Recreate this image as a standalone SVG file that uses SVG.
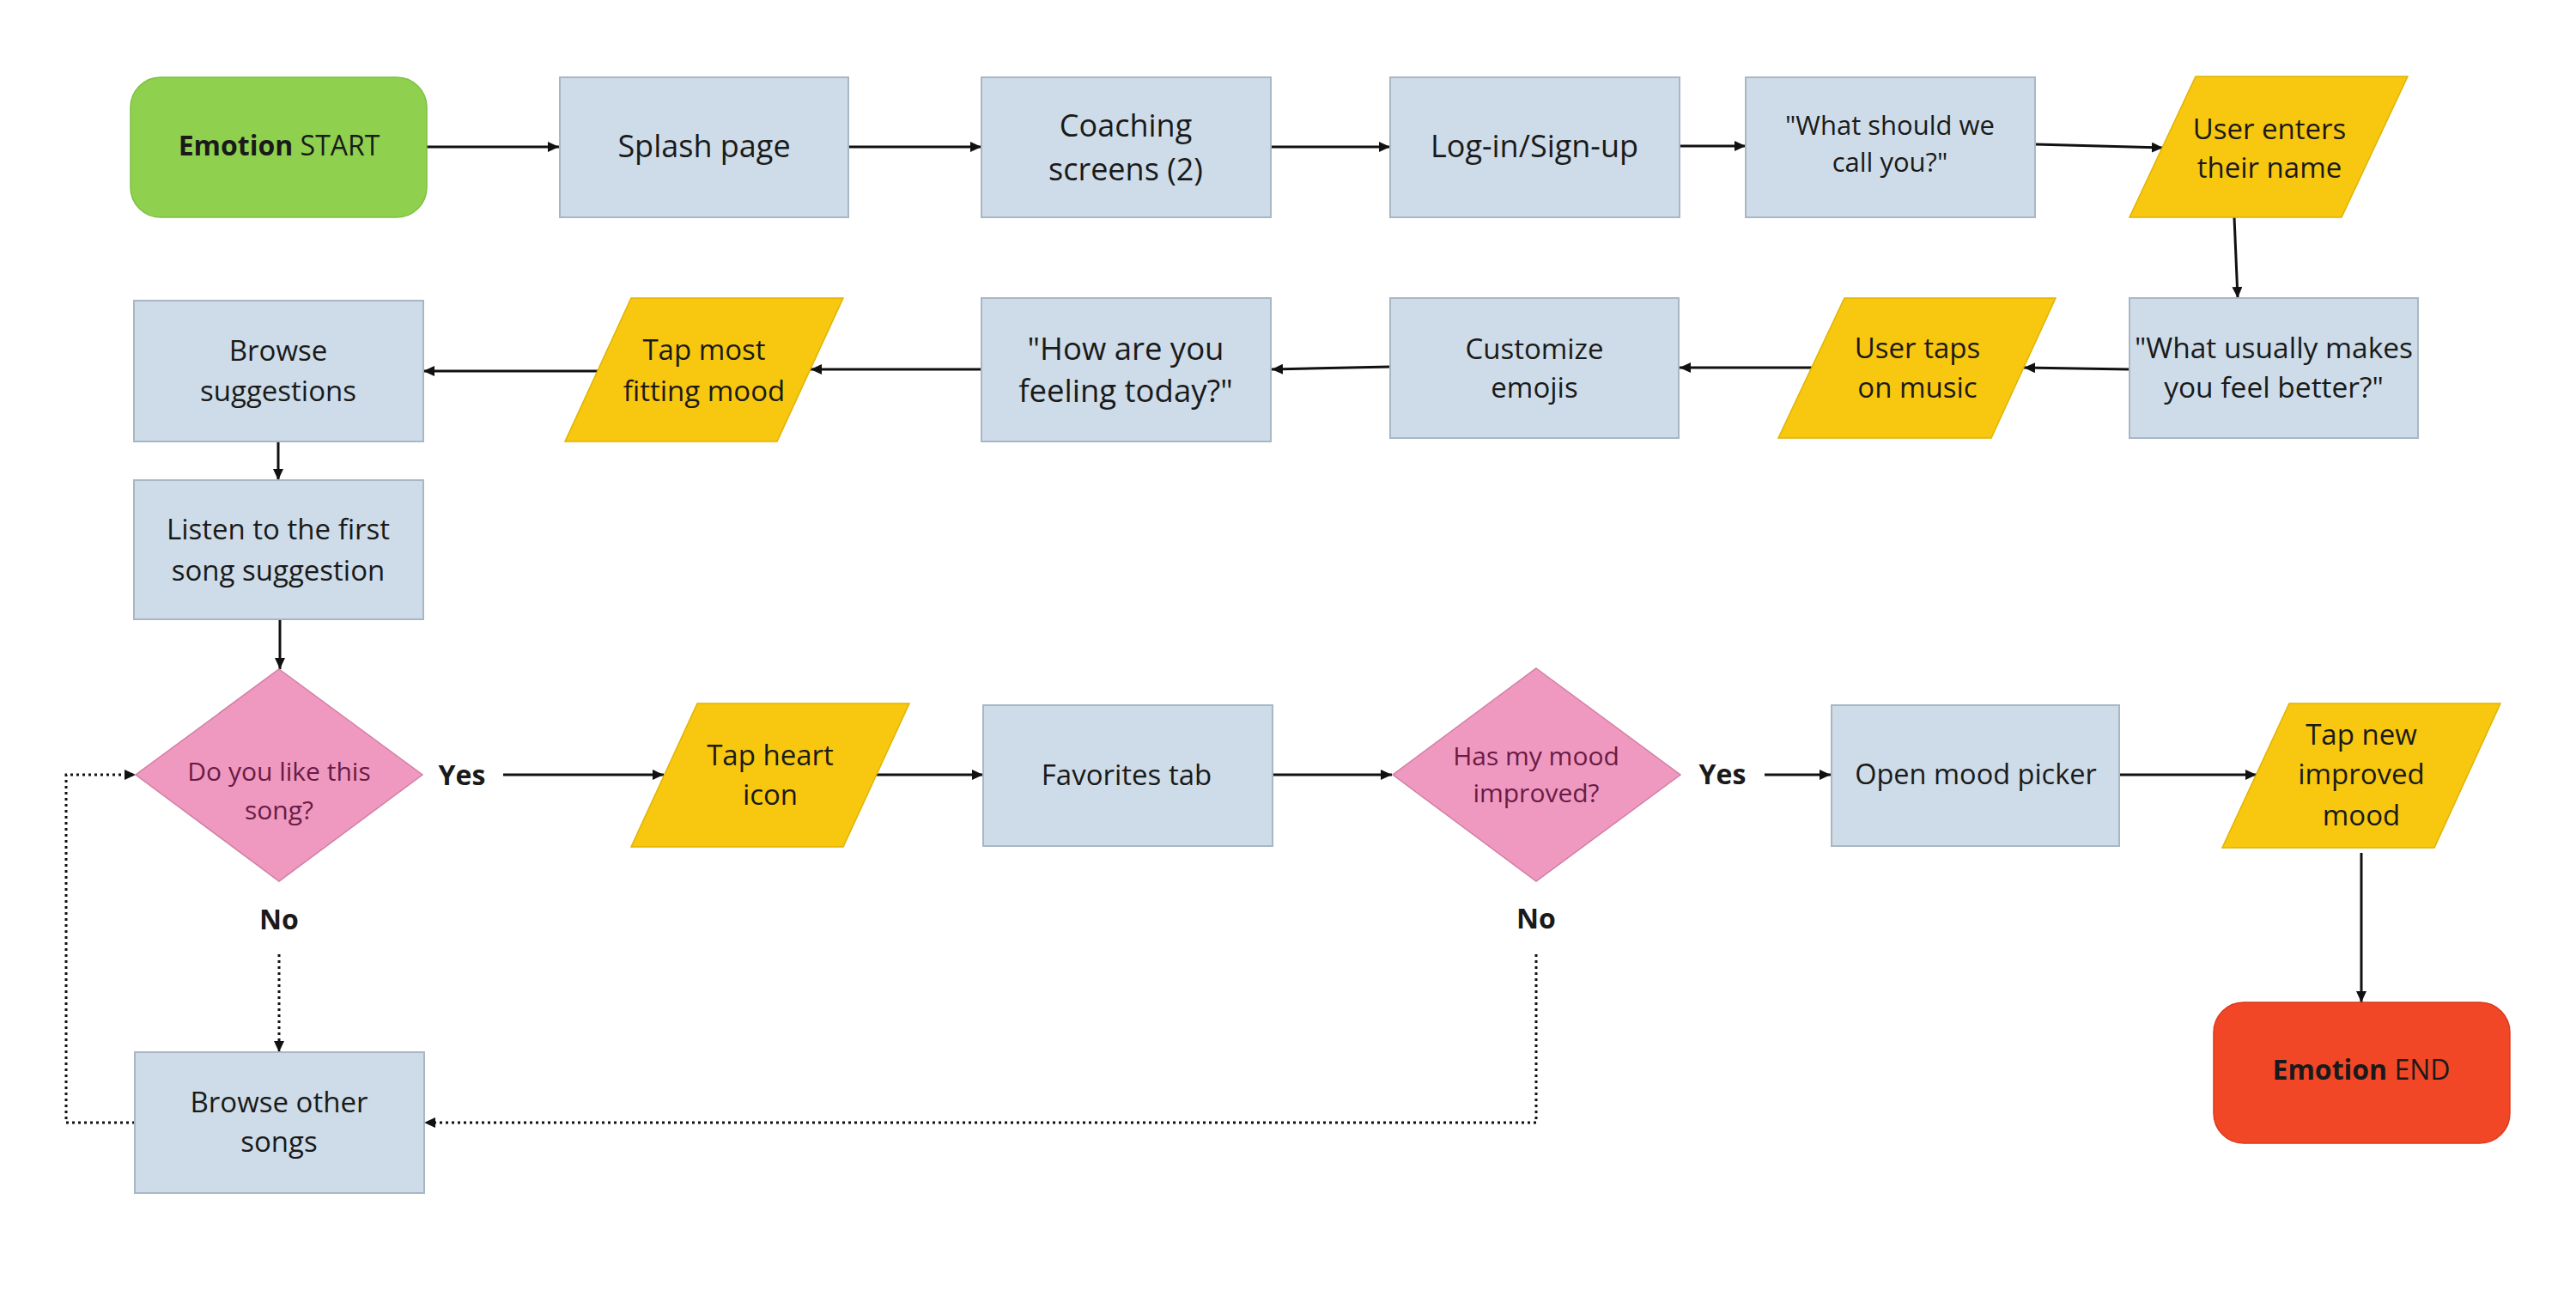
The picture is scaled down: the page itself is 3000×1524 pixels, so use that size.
<svg xmlns="http://www.w3.org/2000/svg" width="3000" height="1524" viewBox="0 0 3000 1524">
<defs>
<marker id="ah" markerUnits="userSpaceOnUse" markerWidth="14" markerHeight="12" refX="13" refY="6" orient="auto"><path d="M0,0 L13,6 L0,12 z" fill="#111"/></marker>
<style>
text{font-family:"Open Sans","Liberation Sans",sans-serif;fill:#1a1a1a;text-anchor:middle}
.box{fill:#cddce8;stroke:#a9b7c4;stroke-width:2}
.para{fill:#f8c70f;stroke:#e0b400;stroke-width:1.5}
.dia{fill:#ef99c0;stroke:#d27ea4;stroke-width:1.5}
.t36{font-size:36px}
.t33{font-size:33px}
.t31{font-size:31px}
.q{font-size:30px;fill:#6a1b45}
.lbl{font-size:32px;font-weight:bold}
.c{fill:none;stroke:#111;stroke-width:3;marker-end:url(#ah)}
.d{fill:none;stroke:#111;stroke-width:3;stroke-dasharray:3 4;marker-end:url(#ah)}
</style>
</defs>
<rect width="3000" height="1524" fill="#fff"/>
<g id="connectors">
<path class="c" d="M497,171 L651,171"/>
<path class="c" d="M988,171 L1143,171"/>
<path class="c" d="M1480,171 L1619,171"/>
<path class="c" d="M1956,170 L2033,170"/>
<path class="c" d="M2370,168 L2519,172"/>
<path class="c" d="M2602,253 L2606,347"/>
<path class="c" d="M2480,430 L2357,428"/>
<path class="c" d="M2110,428 L1956,428"/>
<path class="c" d="M1619,427 L1481,430"/>
<path class="c" d="M1143,430 L944,430"/>
<path class="c" d="M696,432 L493,432"/>
<path class="c" d="M324,514 L324,559"/>
<path class="c" d="M326,721 L326,779"/>
<path class="c" d="M586,902 L773,902"/>
<path class="c" d="M1018,902 L1145,902"/>
<path class="c" d="M1482,902 L1621,902"/>
<path class="c" d="M2055,902 L2132,902"/>
<path class="c" d="M2468,902 L2628,902"/>
<path class="c" d="M2750,993 L2750,1167"/>
<path class="d" d="M325,1111 L325,1225"/>
<path class="d" d="M157,1307 L77,1307 L77,902 L158,902"/>
<path class="d" d="M1789,1111 L1789,1307 L494,1307"/>
</g>
<g id="start"><rect x="152" y="90" width="345" height="163" rx="35" fill="#8fd14f" stroke="#7cbf40" stroke-width="1.5"/><text x="325" y="181" style="font-size:32px"><tspan font-weight="bold">Emotion</tspan> START</text></g>
<g id="splash"><rect class="box" x="652" y="90" width="336" height="163"/><text x="820" y="183" class="t36">Splash page</text></g>
<g id="coaching"><rect class="box" x="1143" y="90" width="337" height="163"/><text class="t36"><tspan x="1311" y="159">Coaching</tspan><tspan x="1311" y="210">screens (2)</tspan></text></g>
<g id="login"><rect class="box" x="1619" y="90" width="337" height="163"/><text x="1787" y="183" class="t36">Log-in/Sign-up</text></g>
<g id="callyou"><rect class="box" x="2033" y="90" width="337" height="163"/><text class="t31"><tspan x="2201" y="157">"What should we</tspan><tspan x="2201" y="200">call you?"</tspan></text></g>
<g id="entername"><polygon class="para" points="2557,89 2804,89 2727,253 2480,253"/><text class="t33"><tspan x="2643" y="162">User enters</tspan><tspan x="2643" y="207">their name</tspan></text></g>
<g id="feelbetter"><rect class="box" x="2480" y="347" width="336" height="163"/><text style="font-size:33.5px"><tspan x="2648" y="417">"What usually makes</tspan><tspan x="2648" y="463">you feel better?"</tspan></text></g>
<g id="tapmusic"><polygon class="para" points="2148,347 2394,347 2319,510 2071,510"/><text class="t33"><tspan x="2233" y="417">User taps</tspan><tspan x="2233" y="463">on music</tspan></text></g>
<g id="emojis"><rect class="box" x="1619" y="347" width="336" height="163"/><text class="t33"><tspan x="1787" y="418">Customize</tspan><tspan x="1787" y="463">emojis</tspan></text></g>
<g id="feeling"><rect class="box" x="1143" y="347" width="337" height="167"/><text style="font-size:36.5px"><tspan x="1311" y="419">"How are you</tspan><tspan x="1311" y="468">feeling today?"</tspan></text></g>
<g id="tapmood"><polygon class="para" points="735,347 982,347 905,514 658,514"/><text class="t33"><tspan x="820" y="419">Tap most</tspan><tspan x="820" y="467">fitting mood</tspan></text></g>
<g id="browse"><rect class="box" x="156" y="350" width="337" height="164"/><text class="t33"><tspan x="324" y="420">Browse</tspan><tspan x="324" y="467">suggestions</tspan></text></g>
<g id="listen"><rect class="box" x="156" y="559" width="337" height="162"/><text class="t33"><tspan x="324" y="628">Listen to the first</tspan><tspan x="324" y="676">song suggestion</tspan></text></g>
<g id="likesong"><polygon class="dia" points="325,779 492,902 325,1026 158,902"/><text class="q"><tspan x="325" y="909">Do you like this</tspan><tspan x="325" y="954">song?</tspan></text></g>
<g id="yes1"><text x="538" y="914" class="lbl">Yes</text></g>
<g id="no1"><text x="325" y="1082" class="lbl">No</text></g>
<g id="heart"><polygon class="para" points="812,819 1059,819 982,986 735,986"/><text class="t33"><tspan x="897" y="891">Tap heart</tspan><tspan x="897" y="937">icon</tspan></text></g>
<g id="favorites"><rect class="box" x="1145" y="821" width="337" height="164"/><text x="1312" y="914" class="t33">Favorites tab</text></g>
<g id="improved"><polygon class="dia" points="1789,778 1957,902 1789,1026 1622,902"/><text class="q"><tspan x="1789" y="891">Has my mood</tspan><tspan x="1789" y="934">improved?</tspan></text></g>
<g id="yes2"><text x="2006" y="913" class="lbl">Yes</text></g>
<g id="no2"><text x="1789" y="1081" class="lbl">No</text></g>
<g id="picker"><rect class="box" x="2133" y="821" width="335" height="164"/><text x="2301" y="913" style="font-size:32.5px">Open mood picker</text></g>
<g id="tapnew"><polygon class="para" points="2666,819 2912,819 2835,987 2588,987"/><text class="t33"><tspan x="2750" y="867">Tap new</tspan><tspan x="2750" y="913">improved</tspan><tspan x="2750" y="961">mood</tspan></text></g>
<g id="othersongs"><rect class="box" x="157" y="1225" width="337" height="164"/><text class="t33"><tspan x="325" y="1295">Browse other</tspan><tspan x="325" y="1341">songs</tspan></text></g>
<g id="end"><rect x="2578" y="1167" width="345" height="164" rx="35" fill="#f24726" stroke="#d93a1c" stroke-width="1.5"/><text x="2750" y="1257" style="font-size:32px"><tspan font-weight="bold">Emotion</tspan> END</text></g>
</svg>
